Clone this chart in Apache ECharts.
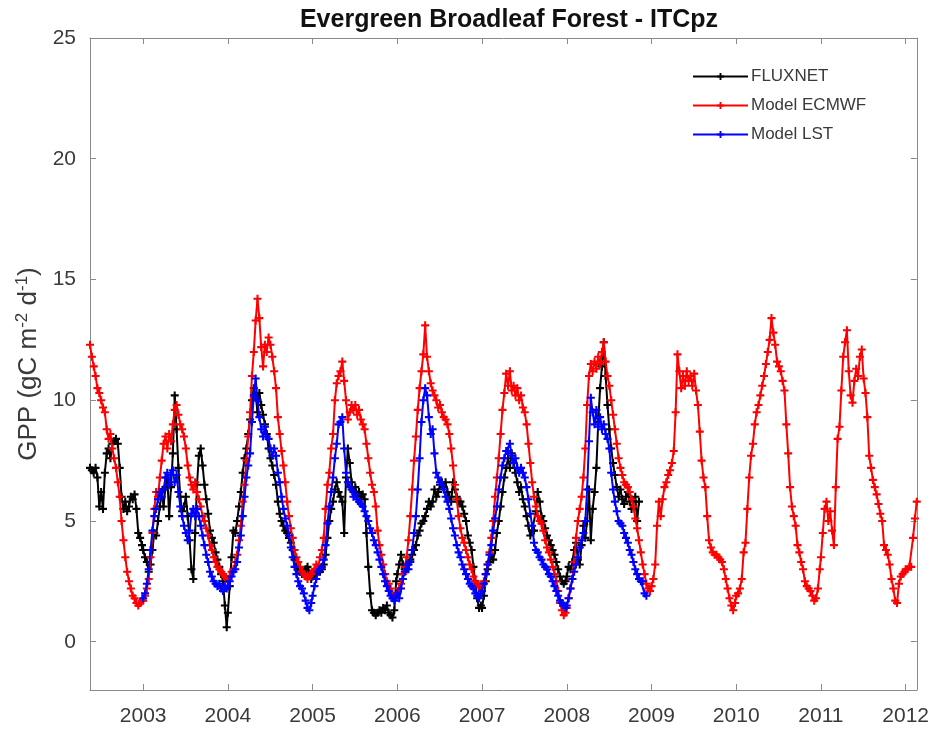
<!DOCTYPE html>
<html>
<head>
<meta charset="utf-8">
<script src="https://cdn.jsdelivr.net/npm/echarts@6/dist/echarts.min.js"></script>
<style>
html,body{margin:0;padding:0;background:#fff;}
#chart{width:932px;height:730px;}
</style>
</head>
<body>
<div id="chart"></div>
<script>
// ---- Tick labels ----
const YEAR_TICKS = [2003, 2004, 2005, 2006, 2007, 2008, 2009, 2010, 2011, 2012];
const GPP_TICKS = [0, 5, 10, 15, 20, 25];
const SERIES_NAMES = ['FLUXNET', 'Model ECMWF', 'Model LST'];

// ---- 8-day composite values (gC m-2 d-1), one array per year ----
// Model ECMWF: 2002 starts at composite index 17
const ecmwf2002 = [12.3,11.8,11.4,11.0,10.5,10.3,10.0,9.7,9.5,8.8,8.4,8.6,8.0,7.6,7.2,6.6,6.0,5.0,4.2,3.5,2.9,2.5,2.2,1.9,1.8,1.6,1.5,1.6,1.7];
const ecmwf2003 = [1.7,1.9,2.2,2.6,3.5,4.5,5.5,6.2,6.0,6.8,7.5,8.2,8.5,8.0,8.6,8.3,9.0,9.6,9.8,9.4,9.0,8.8,8.5,8.0,7.3,6.8,6.5,6.3,6.6,6.2,5.9,5.6,5.2,5.0,4.7,4.4,4.0,3.8,3.5,3.3,3.1,3.0,2.9,2.8,2.7,2.6];
const ecmwf2004 = [2.6,2.7,2.9,3.0,3.3,3.6,4.2,4.8,5.8,6.5,7.5,8.5,9.5,11.0,12.0,13.3,14.2,13.4,12.2,11.4,12.3,12.0,12.6,12.3,11.8,11.2,10.5,9.3,8.6,7.9,7.3,6.6,5.8,5.2,4.7,4.3,3.8,3.5,3.3,3.1,2.9,2.8,2.7,2.6,2.7,2.8];
const ecmwf2005 = [2.9,3.0,3.2,3.1,3.5,3.8,4.3,5.5,6.5,7.0,8.0,8.6,10.0,10.7,11.0,11.2,11.6,10.8,10.0,9.2,9.5,9.8,9.6,9.8,9.4,9.6,9.2,9.0,8.8,8.2,7.6,7.0,6.5,6.2,5.6,4.6,4.0,3.6,3.2,2.8,2.5,2.4,2.2,2.0,1.9,1.9];
const ecmwf2006 = [2.0,2.2,2.4,2.8,3.1,3.5,4.2,5.2,6.3,7.5,8.5,9.6,10.5,11.2,11.9,13.1,11.8,11.2,10.7,10.4,10.2,10.0,9.7,9.8,9.5,9.3,9.2,9.0,8.6,8.0,7.3,6.5,5.9,5.2,4.7,4.3,4.1,3.8,3.5,3.2,3.0,2.7,2.5,2.4,2.3,2.3];
const ecmwf2007 = [2.3,2.5,2.8,3.2,3.7,4.3,5.0,6.0,6.8,7.6,8.6,9.6,10.3,11.1,10.6,11.2,10.4,10.6,10.2,10.5,10.0,10.2,9.7,9.5,9.0,8.2,7.4,6.6,6.0,5.6,5.2,5.0,4.9,4.6,4.2,3.9,3.7,3.4,3.1,2.8,2.5,2.1,1.6,1.3,1.1,1.2];
const ecmwf2008 = [1.4,1.8,2.2,2.6,3.3,4.3,5.0,5.5,6.0,6.8,8.0,9.8,11.0,11.5,11.2,11.6,11.3,11.8,11.5,12.0,12.4,11.6,11.0,10.6,10.0,9.4,8.8,8.2,7.6,7.2,6.9,6.6,6.5,6.4,6.2,5.9,5.6,5.1,4.7,4.2,3.7,3.2,2.8,2.4,2.2,2.1];
const ecmwf2009 = [2.3,2.6,3.2,4.8,5.8,5.2,5.9,6.4,6.6,6.9,7.1,7.4,7.9,9.5,11.9,11.2,10.5,11.0,10.6,11.2,10.8,11.0,10.6,11.1,10.4,9.8,8.7,7.5,6.8,6.4,5.2,4.2,3.9,3.7,3.6,3.6,3.5,3.4,3.3,3.0,2.6,2.2,1.8,1.5,1.3,1.6];
const ecmwf2010 = [1.9,2.0,2.2,2.6,3.7,4.1,5.5,6.8,7.7,8.2,9.0,9.5,9.8,10.2,10.6,11.0,11.5,12.0,12.5,13.4,12.8,12.3,11.6,11.4,11.2,10.8,10.4,9.0,7.8,6.4,5.6,5.2,4.8,4.0,3.7,3.3,3.0,2.5,2.3,2.2,2.1,1.9,1.7,1.8,2.2,3.0];
const ecmwf2011 = [3.5,4.5,5.5,5.8,5.0,5.4,4.6,4.0,6.4,8.4,8.9,10.4,11.8,12.4,12.9,11.2,10.2,9.9,10.8,11.3,11.0,11.8,12.1,10.9,10.3,9.3,7.7,7.2,6.7,6.4,6.1,5.7,5.3,5.0,4.0,3.8,3.6,3.2,2.6,2.2,1.7,1.6,2.4,2.7,2.8,2.9];
const ecmwf2012 = [3.0,3.0,3.1,3.1,4.3,5.1,5.8];

// FLUXNET: 2002 starts at composite index 17
const flux2002 = [7.2,7.1,7.0,7.2,6.8,5.6,6.2,5.5,7.0,7.8,8.0,7.6,8.2,8.3,8.4,8.2,7.2,6.0,5.5,5.8,5.4,5.6,6.0,5.9,6.1,5.5,4.5,4.3,4.0];
const flux2003 = [3.8,3.5,3.3,2.9,3.2,3.8,4.5,4.4,5.0,5.6,6.2,5.6,6.4,6.8,5.2,6.4,7.8,10.2,8.8,7.2,6.0,5.4,5.6,6.0,5.2,4.2,3.0,2.6,4.5,6.5,7.7,8.0,7.3,6.5,5.9,5.3,4.6,4.3,4.1,3.7,3.4,3.1,2.8,2.5,1.5,0.6];
const flux2004 = [1.2,2.3,3.5,4.6,4.5,5.0,5.6,6.2,7.0,7.6,8.0,8.6,9.2,10.0,10.5,10.2,9.5,10.3,9.8,9.4,9.0,8.6,8.0,7.6,7.3,6.9,6.5,5.8,5.3,5.0,4.8,4.6,4.5,4.3,4.1,3.8,3.4,3.1,3.0,2.9,2.8,2.9,3.0,3.1,2.8,2.6];
const flux2005 = [2.7,2.8,2.9,3.0,2.9,3.0,3.2,3.6,4.3,5.0,5.5,5.8,6.3,6.6,6.2,6.0,5.8,4.5,6.8,8.0,7.4,6.6,6.2,6.4,6.1,6.2,6.0,6.1,5.9,4.5,3.1,2.0,1.3,1.2,1.1,1.2,1.3,1.2,1.4,1.3,1.5,1.2,1.1,1.0,1.3,2.5];
const flux2006 = [2.8,3.2,3.6,3.2,3.0,3.0,3.2,3.4,3.6,3.8,4.0,4.4,4.6,4.9,5.0,5.2,5.5,5.8,5.6,5.8,6.3,6.0,6.2,6.5,6.6,6.4,6.6,6.2,6.0,5.8,6.6,6.3,6.0,5.8,5.8,5.6,5.3,5.0,4.4,4.1,3.8,3.1,2.5,1.8,1.4,1.5];
const flux2007 = [1.4,1.9,2.5,3.0,3.3,3.6,3.4,3.8,4.5,5.0,5.6,6.2,6.8,7.2,7.6,7.2,7.8,7.4,7.0,6.6,6.2,6.4,5.9,5.6,5.2,4.8,4.4,4.6,4.6,5.4,6.2,5.8,5.2,5.0,4.7,4.4,4.2,4.0,3.8,3.6,3.3,3.0,2.7,2.5,2.4,2.5];
const flux2008 = [2.7,3.1,3.0,3.3,3.8,4.1,3.4,3.2,4.0,4.8,4.3,5.0,6.3,4.2,5.5,6.2,7.2,9.1,10.5,11.4,12.4,11.0,9.8,8.8,8.0,7.4,6.9,6.4,6.0,6.3,5.9,5.7,6.0,6.2,5.8,5.5,5.8,6.0,5.0,5.8];

// Model LST: 2003 starts at composite index 0
const lst2003 = [1.8,2.0,2.4,3.0,3.8,4.6,5.2,5.5,5.9,6.2,6.0,6.3,6.8,7.0,6.5,6.9,7.1,6.6,6.9,6.2,5.6,5.2,4.8,4.5,4.2,4.6,5.3,5.5,5.2,5.5,5.2,4.8,4.4,4.0,3.6,3.3,2.9,2.7,2.5,2.4,2.3,2.4,2.2,2.1,2.3,2.2];
const lst2004 = [2.3,2.5,2.7,2.9,3.0,3.3,3.9,4.4,5.2,6.0,6.8,7.3,7.8,9.1,10.2,10.9,10.0,9.3,8.8,8.5,8.9,8.5,8.4,8.0,7.7,8.0,7.7,7.0,6.6,6.0,5.5,5.1,4.8,4.4,3.9,3.5,3.1,2.8,2.5,2.3,2.2,2.0,1.7,1.4,1.3,1.6];
const lst2005 = [1.9,2.3,2.6,2.9,3.0,3.1,3.4,4.0,4.9,5.6,6.2,6.8,7.6,8.2,9.0,9.1,9.3,8.0,7.0,6.6,6.4,6.3,6.0,6.1,5.9,5.8,5.7,5.6,5.4,5.2,5.0,4.7,4.5,4.2,4.0,3.7,3.4,3.1,2.8,2.5,2.3,2.1,1.9,1.8,1.7,1.9];
const lst2006 = [2.0,1.8,2.2,2.6,2.9,3.2,3.0,3.3,3.8,4.5,5.2,6.3,7.6,9.1,10.0,10.5,10.2,9.3,8.6,8.8,7.8,7.0,6.8,6.6,6.5,6.3,6.0,5.8,5.5,5.1,4.7,4.4,4.0,3.7,3.5,3.2,3.0,2.8,2.6,2.4,2.3,2.2,2.0,1.9,1.8,2.0];
const lst2007 = [2.1,2.4,2.8,3.2,3.6,4.0,4.6,5.1,5.6,6.3,6.8,7.3,7.6,7.9,7.9,8.2,7.7,7.4,7.6,7.2,7.0,7.2,7.0,6.8,6.4,5.9,5.3,4.8,4.1,3.8,3.7,3.5,3.4,3.2,3.1,3.0,2.8,2.7,2.5,2.3,2.1,1.9,1.7,1.6,1.5,1.4];
const lst2008 = [1.5,1.8,2.2,2.6,2.9,3.2,3.5,3.9,4.2,4.5,5.0,6.3,8.3,10.1,9.5,9.0,9.6,8.9,9.3,8.8,9.0,8.6,8.4,8.0,7.0,6.3,5.8,5.4,5.0,4.9,4.8,4.5,4.3,4.1,3.8,3.6,3.3,3.0,2.8,2.6,2.5,2.5,2.0,1.9];

// ---- composite dates -> decimal years ----
function toPoints(firstYear, firstIndex, years) {
  const pts = [];
  years.forEach(function (vals, i) {
    const yr = firstYear + i;
    const nDays = (yr % 4 === 0) ? 366 : 365;
    const k0 = (i === 0) ? firstIndex : 0;
    vals.forEach(function (v, j) { pts.push([yr + 8 * (k0 + j) / nDays, v]); });
  });
  return pts;
}
const ecmwfPts = toPoints(2002, 17, [ecmwf2002, ecmwf2003, ecmwf2004, ecmwf2005, ecmwf2006, ecmwf2007, ecmwf2008, ecmwf2009, ecmwf2010, ecmwf2011, ecmwf2012]);
const fluxPts = toPoints(2002, 17, [flux2002, flux2003, flux2004, flux2005, flux2006, flux2007, flux2008]);
const lstPts = toPoints(2003, 0, [lst2003, lst2004, lst2005, lst2006, lst2007, lst2008]);

const X_MIN = ecmwfPts[0][0];
const X_MAX = ecmwfPts[ecmwfPts.length - 1][0];

const FONT = '"Liberation Sans", Arial, sans-serif';
const AXC = '#8a8a8a';
const TXT = '#3a3a3a';
const PLUS = 'path://M3.7,0h2.6v3.7h3.7v2.6h-3.7v3.7h-2.6v-3.7h-3.7v-2.6h3.7z';

function lineSeries(name, pts, color, z) {
  return {
    name: name, type: 'line', data: pts, z: z,
    symbol: PLUS, symbolSize: 8, showAllSymbol: true,
    lineStyle: { color: color, width: 2 },
    itemStyle: { color: color },
    emphasis: { disabled: true },
    animation: false
  };
}

function xAx(pos, labels) {
  return {
    type: 'value', position: pos, min: X_MIN, max: X_MAX,
    axisLine: { show: true, onZero: false, lineStyle: { color: AXC, width: 1 } },
    axisTick: { show: true, inside: true, length: 6, customValues: YEAR_TICKS, lineStyle: { color: AXC } },
    axisLabel: { show: labels, customValues: YEAR_TICKS, fontSize: 21, color: TXT, fontFamily: FONT, margin: 16,
      formatter: function (v) { return String(Math.round(v)); } },
    splitLine: { show: false }
  };
}
function yAx(pos, labels) {
  const a = {
    type: 'value', position: pos, min: -2, max: 25,
    axisLine: { show: true, onZero: false, lineStyle: { color: AXC, width: 1 } },
    axisTick: { show: true, inside: true, length: 6, customValues: GPP_TICKS, lineStyle: { color: AXC } },
    axisLabel: { show: labels, customValues: GPP_TICKS, fontSize: 21, color: TXT, fontFamily: FONT, margin: 14,
      formatter: function (v) { return String(Math.round(v)); } },
    splitLine: { show: false }
  };
  if (labels) {
    a.name = 'GPP (gC m{sup|-2} d{sup|-1})';
    a.nameLocation = 'middle';
    a.nameRotate = 90;
    a.nameGap = 40;
    a.nameTextStyle = {
      fontSize: 26, color: TXT, fontFamily: FONT,
      rich: { sup: { fontSize: 17, color: TXT, fontFamily: FONT, padding: [0, 0, 13, 0] } }
    };
  }
  return a;
}

const chart = echarts.init(document.getElementById('chart'), null, { renderer: 'canvas' });
chart.setOption({
  backgroundColor: '#ffffff',
  animation: false,
  title: {
    text: 'Evergreen Broadleaf Forest - ITCpz',
    left: 504, top: 3, textAlign: 'center',
    textStyle: { fontSize: 25, fontWeight: 'bold', color: '#111', fontFamily: FONT }
  },
  grid: { left: 90, right: 14, top: 38, bottom: 40, containLabel: false },
  legend: {
    data: SERIES_NAMES, orient: 'vertical', left: 687, top: 63,
    itemWidth: 55, itemHeight: 9, itemGap: 12,
    textStyle: { fontSize: 17, color: TXT, fontFamily: FONT, padding: [0, 0, 0, -2] },
    selectedMode: false
  },
  xAxis: [xAx('bottom', true), xAx('top', false)],
  yAxis: [yAx('left', true), yAx('right', false)],
  series: [
    lineSeries(SERIES_NAMES[0], fluxPts, '#000000', 2),
    lineSeries(SERIES_NAMES[1], ecmwfPts, '#ff0000', 3),
    lineSeries(SERIES_NAMES[2], lstPts, '#0000ff', 4)
  ]
});
</script>
</body>
</html>
